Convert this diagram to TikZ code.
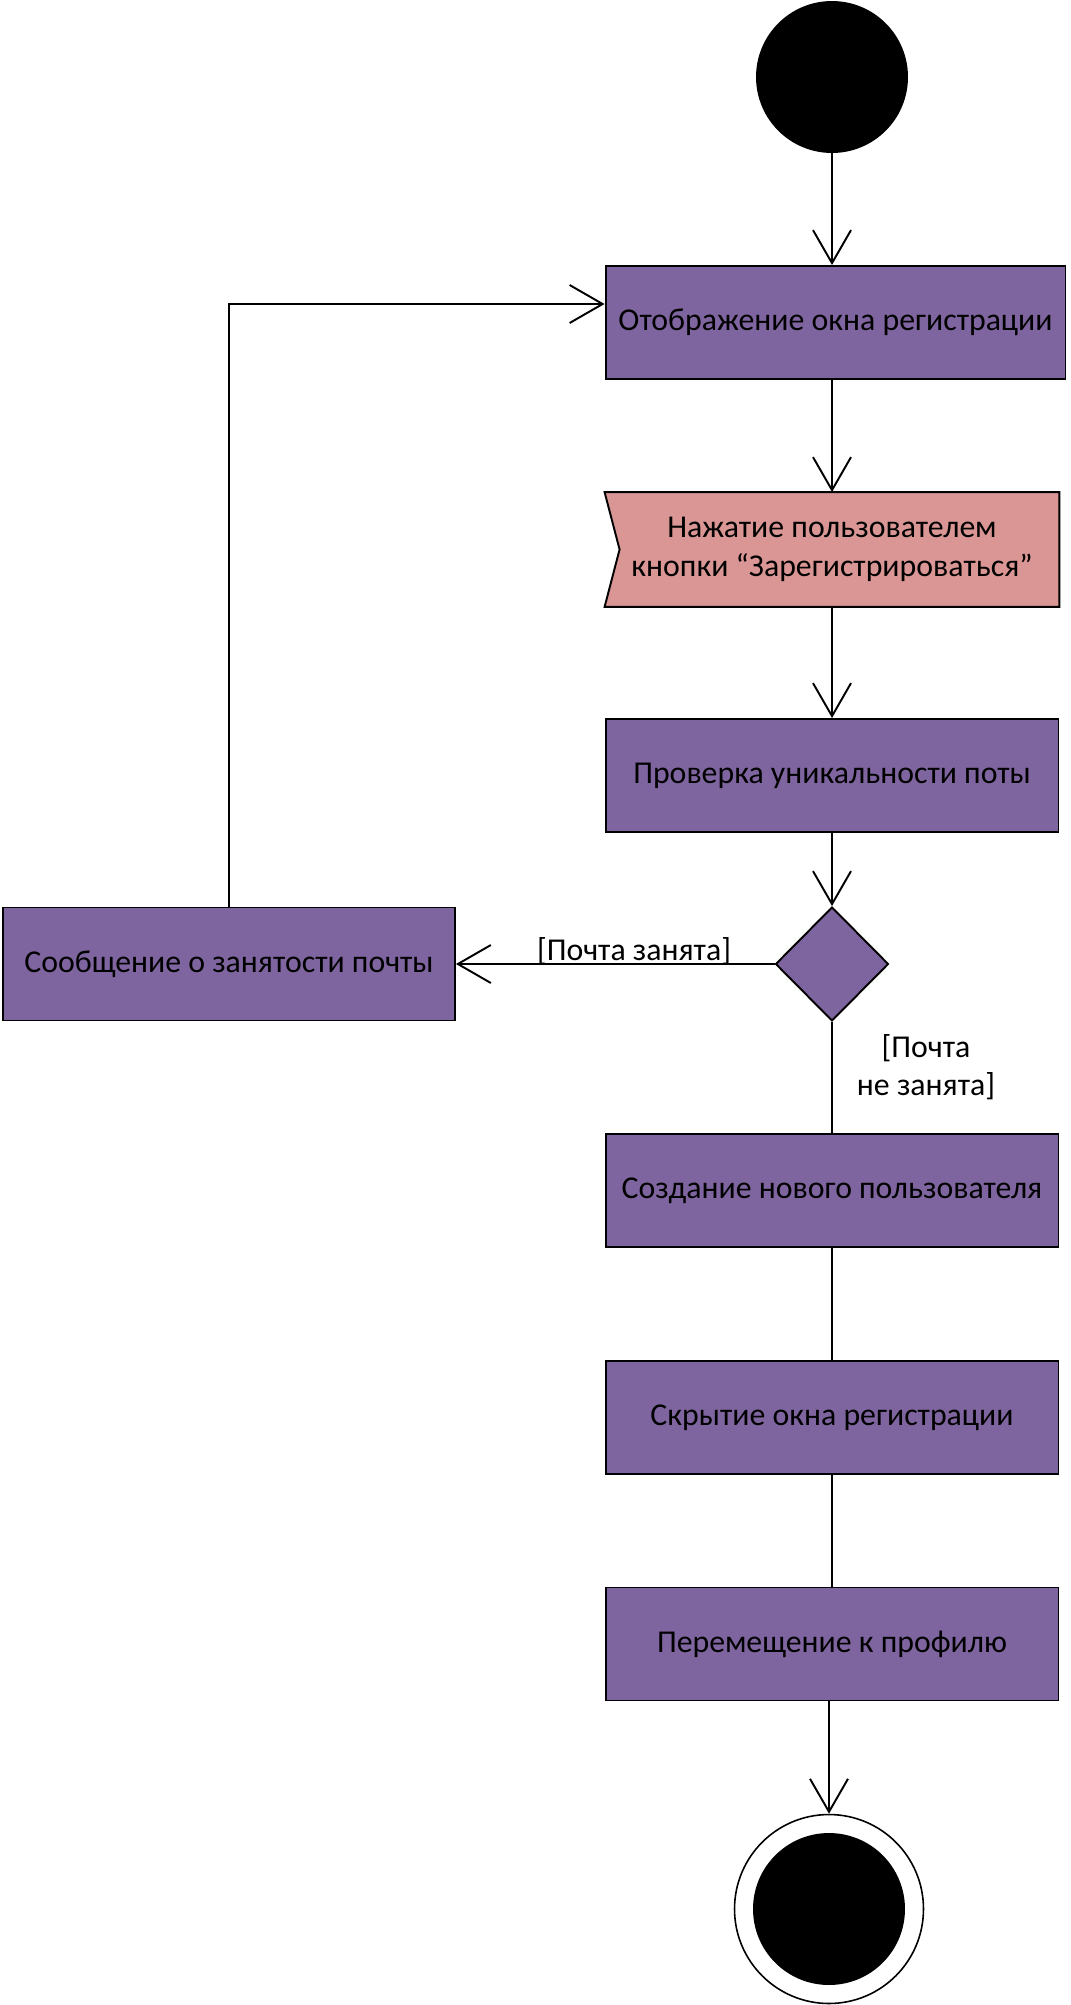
\documentclass[tikz,border=0pt]{standalone}
\usepackage{fontspec}
\setmainfont{Carlito}
\usetikzlibrary{arrows.meta}
\usetikzlibrary{shapes.geometric}
\usetikzlibrary{backgrounds}

\definecolor{actcolor}{HTML}{7F659F}
\definecolor{signalcolor}{HTML}{D99694}

\begin{document}
\begin{tikzpicture}[
  x=0.02cm, y=-0.02cm,
  line/.style = {line width=1.1pt},
  action/.style = {draw, line width=1.1pt, fill=actcolor, inner sep=0pt,
    minimum width=9.06cm, minimum height=2.26cm, align=center},
  guard/.style = {inner sep=0pt, align=center},
  >={Straight Barb[length=0.66cm,width=0.76cm]},
  font=\fontsize{18.1}{21.8}\selectfont
]

  \useasboundingbox (0,0) rectangle (1071,2005);

  \node[circle,fill=black,inner sep=0pt,minimum size=3.04cm] (start) at (832,77) {};

  \node[action,minimum width=9.2cm] (showwin) at (835.5,322.5) {Отображение окна регистрации};
  \node[action,draw=none,fill=none] (press) at (832,549.5) {Нажатие пользователем\\кнопки “Зарегистрироваться”};
  \node[action] (check) at (832,775.5) {Проверка уникальности поты};
  \node[diamond,draw,line width=1.1pt,fill=actcolor,inner sep=0pt,
        minimum width=2.26cm,minimum height=2.28cm] (dec) at (832,964) {};
  \node[action,minimum width=9.04cm] (msg) at (229,964) {Сообщение о занятости почты};
  \node[action] (create) at (832,1190.5) {Создание нового пользователя};
  \node[action] (hide) at (832,1417.5) {Скрытие окна регистрации};
  \node[action] (move) at (832,1644) {Перемещение к профилю};

  \node[circle,draw,line width=0.9pt,inner sep=0pt,minimum size=3.78cm] (final) at (829,1909) {};
  \node[circle,fill=black,inner sep=0pt,minimum size=3.04cm] (finalin) at (final) {};

  % flag of the signal
  \begin{scope}[on background layer]
    \draw[line,fill=signalcolor] (press.north west) -- (press.north east)
      -- (press.south east) -- (press.south west)
      -- ([xshift=0.3cm]press.west) -- cycle;
  \end{scope}

  \node[guard] (busy) at (634,951) {[Почта занята]};
  \node[guard] (free) at (926,1067) {[Почта\\не занята]};

  \coordinate (loopin) at ([yshift=0.37cm]showwin.west);

  \draw[line,->] (start) -- (showwin.north -| start);
  \draw[line,->] (showwin.south -| press) -- (press);
  \draw[line,->] (press) -- (check);
  \draw[line,->] (check) -- (dec);
  \draw[line,->] (dec) -- (msg);
  \draw[line,->] (msg) |- (loopin);
  \draw[line] (dec) -- (create);
  \draw[line] (create) -- (hide);
  \draw[line] (hide) -- (move);
  \draw[line,->] (move.south -| final) -- (final);

\end{tikzpicture}
\end{document}
